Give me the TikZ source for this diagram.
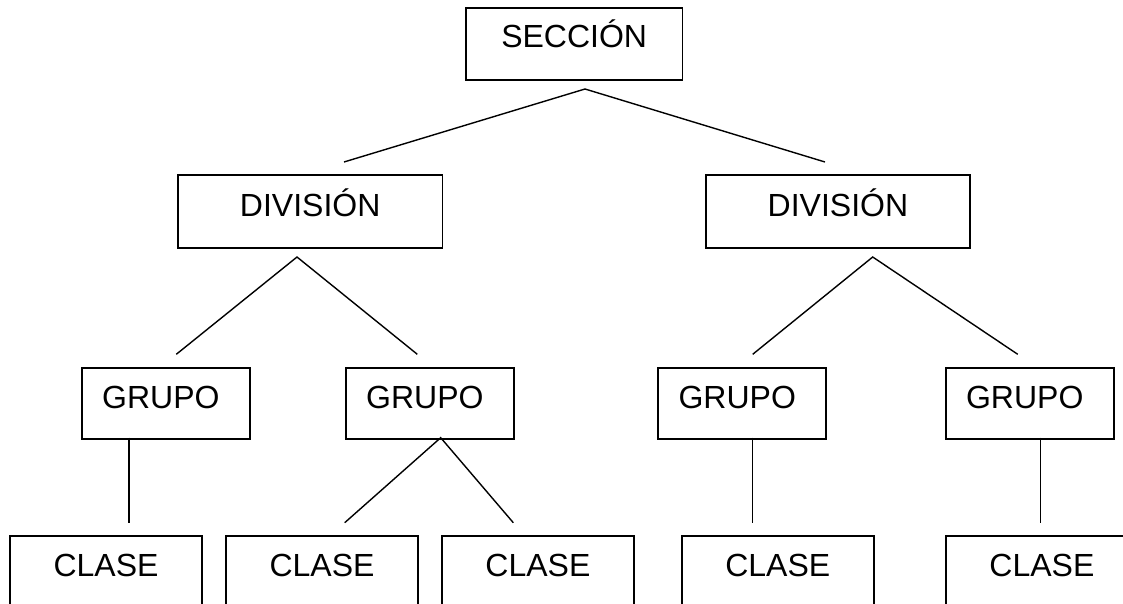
\documentclass[tikz,border=0pt]{standalone}
\usepackage{fontspec}
\setmainfont{Liberation Sans}
\begin{document}
\begin{tikzpicture}[x=1pt,y=-1pt,
  box/.style={draw=black, line width=1.8pt, inner sep=0pt, anchor=north west,
    font=\fontsize{32}{38}\selectfont, text height=40.6pt, text depth=31pt},
  clasebox/.style={box, text height=40.7pt, text depth=60pt},
  conn/.style={draw=black, line width=1.4pt}]
\useasboundingbox (0,0) rectangle (1123,604);
\clip (0,0) rectangle (1123,604);
% level 0
\node[box, minimum width=216.5pt, text height=39.7pt, text depth=32.3pt] (sec) at (465,7) {SECCIÓN};
% level 1
\node[box, minimum width=264.5pt, text height=41.2pt, text depth=31.3pt] (divL) at (177,174.5) {DIVISIÓN};
\node[box, minimum width=264pt, text height=41.2pt, text depth=31.3pt] (divR) at (705,174.5) {DIVISIÓN};
% level 2
\node[box, minimum width=168.6pt, text height=40.6pt, text depth=30.4pt] (g1) at (80.7,366.7) {GRUPO\hspace*{10pt}};
\node[box, minimum width=168.6pt, text height=40.6pt, text depth=30.4pt] (g2) at (344.7,366.7) {GRUPO\hspace*{10pt}};
\node[box, minimum width=168.3pt, text height=40.6pt, text depth=30.4pt] (g3) at (656.7,366.7) {GRUPO\hspace*{9pt}};
\node[box, minimum width=167.7pt, text height=40.6pt, text depth=30.4pt] (g4) at (945,366.7) {GRUPO\hspace*{10pt}};
% level 3
\node[clasebox, minimum width=192.3pt] (c1) at (9,535) {CLASE};
\node[clasebox, minimum width=192.3pt] (c2) at (225,535) {CLASE};
\node[clasebox, minimum width=192.6pt] (c3) at (440.7,535) {CLASE};
\node[clasebox, minimum width=192.3pt] (c4) at (680.7,535) {CLASE};
\node[clasebox, minimum width=192pt] (c5) at (945,535) {CLASE};
% connector points
\coordinate (a0) at (585,89);
\coordinate (a0l) at (344,162);
\coordinate (a0r) at (825,162);
\coordinate (a1) at (297,257);
\coordinate (a1l) at (176.3,354.3);
\coordinate (a1r) at (417.3,354.3);
\coordinate (a2) at (872.7,257);
\coordinate (a2l) at (752.7,354.3);
\coordinate (a2r) at (1017.7,354.3);
\coordinate (g1b) at (129,437.7);
\coordinate (g1e) at (129,522.7);
\coordinate (g2b) at (440.7,437.7);
\coordinate (g2l) at (344.7,522.7);
\coordinate (g2r) at (513.3,522.7);
\coordinate (g3b) at (752.7,437.7);
\coordinate (g3e) at (752.7,522.7);
\coordinate (g4b) at (1040.7,437.7);
\coordinate (g4e) at (1040.7,522.7);
% connectors
\draw[conn] (a0l) -- (a0) -- (a0r);
\draw[conn] (a1l) -- (a1) -- (a1r);
\draw[conn] (a2l) -- (a2) -- (a2r);
\draw[conn] (g1b) -- (g1e);
\draw[conn] (g2l) -- (g2b) -- (g2r);
\draw[conn] (g3b) -- (g3e);
\draw[conn] (g4b) -- (g4e);
\end{tikzpicture}
\end{document}
